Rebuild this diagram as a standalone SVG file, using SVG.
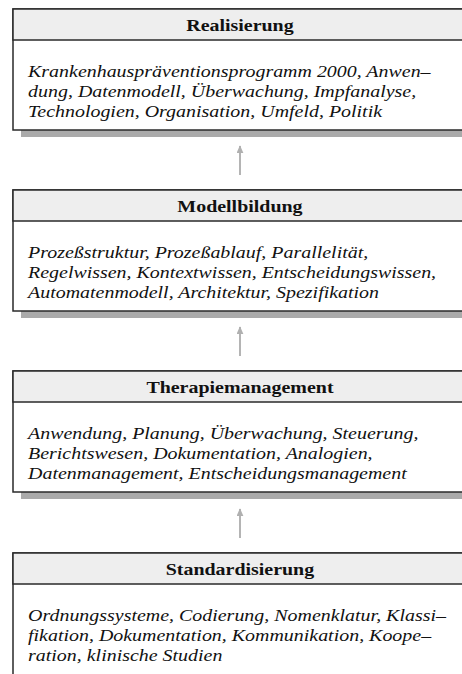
<svg xmlns="http://www.w3.org/2000/svg" width="462" height="674" viewBox="0 0 462 674">
  <defs>
    <marker id="head" viewBox="0 0 10 10" refX="9" refY="5" markerWidth="8" markerHeight="7" orient="auto" markerUnits="userSpaceOnUse" preserveAspectRatio="none">
      <path d="M0,0 L10,5 L0,10 Z" fill="#b0b0b0"/>
    </marker>
  </defs>
  <style>
    .box { fill: #ffffff; stroke: #2a2a2a; stroke-width: 1.5; }
    .hdr { fill: #eeeeee; stroke: #2a2a2a; stroke-width: 1.5; }
    .shadow { fill: #aaaaaa; }
    .title { font-family: "Liberation Serif", "Times New Roman", serif; font-weight: bold; font-size: 17.5px; fill: #111; text-anchor: middle; }
    .body { font-family: "Liberation Serif", "Times New Roman", serif; font-style: italic; font-size: 17.5px; fill: #111; }
    .conn { stroke: #b4b4b4; stroke-width: 2; fill: none; }
  </style>
  <rect width="462" height="674" fill="#ffffff"/>

  <!-- connectors: each layer builds on the one below -->
  <g id="connectors">
    <line class="conn" x1="240" y1="175" x2="240" y2="146" marker-end="url(#head)"/>
    <line class="conn" x1="240" y1="356" x2="240" y2="327" marker-end="url(#head)"/>
    <line class="conn" x1="240" y1="538" x2="240" y2="509" marker-end="url(#head)"/>
  </g>

  <!-- layer: Realisierung -->
  <g id="realisierung">
    <rect class="shadow" x="21" y="130" width="460" height="7"/>
    <rect class="box" x="13" y="9" width="460" height="121"/>
    <rect class="hdr" x="13" y="9" width="460" height="31"/>
    <g transform="scale(1.14 1)">
      <text class="title" x="210.5" y="31">Realisierung</text>
      <text class="body" x="24.6" y="77">Krankenhauspräventionsprogramm 2000, Anwen–</text>
      <text class="body" x="24.6" y="97">dung, Datenmodell, Überwachung, Impfanalyse,</text>
      <text class="body" x="24.6" y="117">Technologien, Organisation, Umfeld, Politik</text>
    </g>
  </g>

  <!-- layer: Modellbildung -->
  <g id="modellbildung">
    <rect class="shadow" x="21" y="311" width="460" height="7"/>
    <rect class="box" x="13" y="190" width="460" height="121"/>
    <rect class="hdr" x="13" y="190" width="460" height="31"/>
    <g transform="scale(1.14 1)">
      <text class="title" x="210.5" y="212">Modellbildung</text>
      <text class="body" x="24.6" y="258">Prozeßstruktur, Prozeßablauf, Parallelität,</text>
      <text class="body" x="24.6" y="278">Regelwissen, Kontextwissen, Entscheidungswissen,</text>
      <text class="body" x="24.6" y="298">Automatenmodell, Architektur, Spezifikation</text>
    </g>
  </g>

  <!-- layer: Therapiemanagement -->
  <g id="therapiemanagement">
    <rect class="shadow" x="21" y="492" width="460" height="7"/>
    <rect class="box" x="13" y="371" width="460" height="121"/>
    <rect class="hdr" x="13" y="371" width="460" height="31"/>
    <g transform="scale(1.14 1)">
      <text class="title" x="210.5" y="393">Therapiemanagement</text>
      <text class="body" x="24.6" y="439">Anwendung, Planung, Überwachung, Steuerung,</text>
      <text class="body" x="24.6" y="459">Berichtswesen, Dokumentation, Analogien,</text>
      <text class="body" x="24.6" y="479">Datenmanagement, Entscheidungsmanagement</text>
    </g>
  </g>

  <!-- layer: Standardisierung -->
  <g id="standardisierung">
    <rect class="box" x="13" y="553" width="460" height="140"/>
    <rect class="hdr" x="13" y="553" width="460" height="31"/>
    <g transform="scale(1.14 1)">
      <text class="title" x="210.5" y="575">Standardisierung</text>
      <text class="body" x="24.6" y="621">Ordnungssysteme, Codierung, Nomenklatur, Klassi–</text>
      <text class="body" x="24.6" y="641">fikation, Dokumentation, Kommunikation, Koope–</text>
      <text class="body" x="24.6" y="661">ration, klinische Studien</text>
    </g>
  </g>
</svg>
